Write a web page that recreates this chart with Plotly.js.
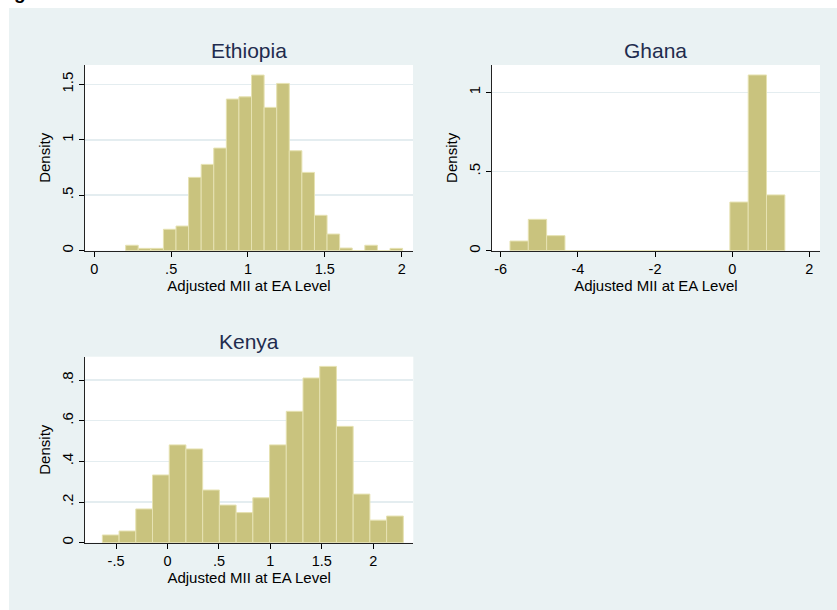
<!DOCTYPE html>
<html>
<head>
<meta charset="utf-8">
<script src="https://cdn.plot.ly/plotly-3.0.1.min.js"></script>
<style>
  html, body { margin: 0; padding: 0; background: #ffffff; width: 837px; height: 610px; overflow: hidden; }
  #cap { position: absolute; left: -3px; top: -17px; font: bold 19px "Liberation Sans", Arial, sans-serif; line-height: 19px; color: #000; white-space: nowrap; }
  #chart { position: absolute; left: 9px; top: 8px; width: 828px; height: 602px; }
</style>
</head>
<body>
<div id="cap">Figure</div>
<div id="chart"></div>
<script>
// ---- data ----
const panelNames = ["Ethiopia", "Ghana", "Kenya"];

const ethiopiaBinStart = 0.204;
const ethiopiaBinWidth = 0.0819;
const ethiopiaDensity = [0.049, 0.021, 0.021, 0.193, 0.222, 0.661, 0.778, 0.925, 1.367, 1.387, 1.583,
                         1.292, 1.508, 0.901, 0.706, 0.319, 0.150, 0.024, 0, 0.049, 0, 0.021];

const ghanaBinStart = -5.759;
const ghanaBinWidth = 0.475;
const ghanaDensity = [0.061, 0.198, 0.095, 0, 0, 0, 0, 0, 0, 0, 0, 0, 0.307, 1.109, 0.352];

const kenyaBinStart = -0.633;
const kenyaBinWidth = 0.1625;
const kenyaDensity = [0.038, 0.0575, 0.166, 0.333, 0.481, 0.461, 0.259, 0.185, 0.148, 0.221, 0.481,
                      0.646, 0.810, 0.867, 0.572, 0.239, 0.111, 0.131];

const ethiopiaXTicks = [0, 0.5, 1, 1.5, 2];
const ethiopiaXLabels = ["0", ".5", "1", "1.5", "2"];
const ethiopiaYTicks = [0, 0.5, 1, 1.5];
const ethiopiaYLabels = ["0", ".5", "1", "1.5"];

const ghanaXTicks = [-6, -4, -2, 0, 2];
const ghanaXLabels = ["-6", "-4", "-2", "0", "2"];
const ghanaYTicks = [0, 0.5, 1];
const ghanaYLabels = ["0", ".5", "1"];

const kenyaXTicks = [-0.5, 0, 0.5, 1, 1.5, 2];
const kenyaXLabels = ["-.5", "0", ".5", "1", "1.5", "2"];
const kenyaYTicks = [0, 0.2, 0.4, 0.6, 0.8];
const kenyaYLabels = ["0", ".2", ".4", ".6", ".8"];

const xTitle = "Adjusted MII at EA Level";
const yTitle = "Density";

// ---- styling ----
const FONT = '"Liberation Sans", Arial, Helvetica, sans-serif';
const BAR_FILL = "#c9c37e";
const BAR_EDGE = "#e6e2b2";
const OUTER_BG = "#eaf2f3";
const GRID = "#e4edf0";
const TITLE_COLOR = "#1f2c4e";

function centers(start, width, vals) {
  return vals.map((_, i) => start + (i + 0.5) * width);
}

function barTrace(start, width, vals, xa, ya) {
  return {
    type: "bar",
    x: centers(start, width, vals),
    y: vals,
    width: vals.map(() => width),
    xaxis: xa, yaxis: ya,
    marker: { color: BAR_FILL, line: { color: BAR_EDGE, width: 1 } },
    hoverinfo: "x+y",
    showlegend: false
  };
}

const data = [
  barTrace(ethiopiaBinStart, ethiopiaBinWidth, ethiopiaDensity, "x", "y"),
  barTrace(ghanaBinStart, ghanaBinWidth, ghanaDensity, "x2", "y2"),
  barTrace(kenyaBinStart, kenyaBinWidth, kenyaDensity, "x3", "y3")
];

function xAxis(domain, range, tv, tt, anchor) {
  return {
    domain: domain, range: range, anchor: anchor,
    tickmode: "array", tickvals: tv, ticktext: tt,
    ticks: "outside", ticklen: 5, tickwidth: 1, tickcolor: "#000",
    showline: true, linecolor: "#222", linewidth: 1,
    showgrid: false, zeroline: false,
    tickfont: { family: FONT, size: 14.5, color: "#000" },
    title: { text: xTitle, font: { family: FONT, size: 15, color: "#000" }, standoff: 2 },
    fixedrange: true
  };
}
function yAxis(domain, range, tv, tt, anchor) {
  return {
    domain: domain, range: range, anchor: anchor,
    tickmode: "array", tickvals: tv, ticktext: tt, tickangle: -90,
    ticks: "outside", ticklen: 5, tickwidth: 1, tickcolor: "#000",
    showline: true, linecolor: "#222", linewidth: 1,
    showgrid: true, gridcolor: GRID, gridwidth: 1.5, zeroline: false,
    tickfont: { family: FONT, size: 15, color: "#000" },
    title: { text: yTitle, font: { family: FONT, size: 15, color: "#000" }, standoff: 4 },
    fixedrange: true
  };
}

const W = 828, H = 602;
const ethX = [76 / W, 404 / W], ethY = [1 - 242.7 / H, 1 - 57 / H];
const ghaX = [482.7 / W, 811 / W], ghaY = ethY;
const kenX = [76 / W, 404.3 / W], kenY = [1 - 534.7 / H, 1 - 348.7 / H];

function titleAnn(text, xd, ytop) {
  return {
    text: text, xref: "paper", yref: "paper",
    x: (xd[0] + xd[1]) / 2, y: ytop, yanchor: "bottom", xanchor: "center",
    showarrow: false,
    font: { family: FONT, size: 21, color: TITLE_COLOR }
  };
}

const layout = {
  width: W, height: H,
  margin: { l: 0, r: 0, t: 0, b: 0, pad: 0 },
  paper_bgcolor: OUTER_BG,
  plot_bgcolor: "#ffffff",
  bargap: 0,
  showlegend: false,
  font: { family: FONT, color: "#000" },
  xaxis: xAxis(ethX, [-0.0605, 2.0736], ethiopiaXTicks, ethiopiaXLabels, "y"),
  yaxis: yAxis(ethY, [0, 1.674], ethiopiaYTicks, ethiopiaYLabels, "x"),
  xaxis2: xAxis(ghaX, [-6.233, 2.277], ghanaXTicks, ghanaXLabels, "y2"),
  yaxis2: yAxis(ghaY, [0, 1.172], ghanaYTicks, ghanaYLabels, "x2"),
  xaxis3: xAxis(kenX, [-0.8016, 2.389], kenyaXTicks, kenyaXLabels, "y3"),
  yaxis3: yAxis(kenY, [0, 0.9146], kenyaYTicks, kenyaYLabels, "x3"),
  annotations: [
    titleAnn(panelNames[0], ethX, ethY[1] + 0.002),
    titleAnn(panelNames[1], ghaX, ghaY[1] + 0.002),
    titleAnn(panelNames[2], kenX, kenY[1] + 0.002)
  ]
};

Plotly.newPlot("chart", data, layout, { displayModeBar: false, staticPlot: true });
</script>
</body>
</html>
